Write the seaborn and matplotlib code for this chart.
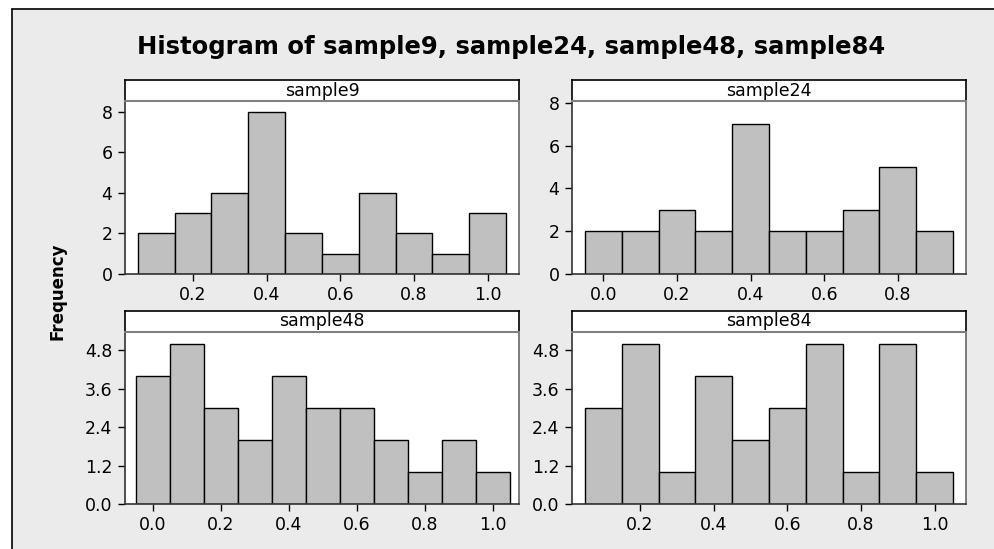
import numpy as np
import pandas as pd
import matplotlib
matplotlib.use("Agg")
import matplotlib.pyplot as plt
import seaborn as sns
from matplotlib.lines import Line2D

sns.set_style("white")
plt.rcParams['font.family'] = ['DejaVu Sans']
plt.rcParams['text.color'] = 'black'
plt.rcParams['xtick.color'] = 'black'
plt.rcParams['ytick.color'] = 'black'
plt.rcParams['axes.labelcolor'] = 'black'

# ---- data (bin centers and counts) ----
titles = ["sample9", "sample24", "sample48", "sample84"]
centers9 = [0.1, 0.2, 0.3, 0.4, 0.5, 0.6, 0.7, 0.8, 0.9, 1.0]
counts9 = [2, 3, 4, 8, 2, 1, 4, 2, 1, 3]
centers24 = [0.0, 0.1, 0.2, 0.3, 0.4, 0.5, 0.6, 0.7, 0.8, 0.9]
counts24 = [2, 2, 3, 2, 7, 2, 2, 3, 5, 2]
centers48 = [0.0, 0.1, 0.2, 0.3, 0.4, 0.5, 0.6, 0.7, 0.8, 0.9, 1.0]
counts48 = [4, 5, 3, 2, 4, 3, 3, 2, 1, 2, 1]
centers84 = [0.1, 0.2, 0.3, 0.4, 0.5, 0.6, 0.7, 0.8, 0.9, 1.0]
counts84 = [3, 5, 1, 4, 2, 3, 5, 1, 5, 1]

xticks9 = [0.2, 0.4, 0.6, 0.8, 1.0]
xticks24 = [0.0, 0.2, 0.4, 0.6, 0.8]
xticks48 = [0.0, 0.2, 0.4, 0.6, 0.8, 1.0]
xticks84 = [0.2, 0.4, 0.6, 0.8, 1.0]
yticks_top = [0, 2, 4, 6, 8]
yticks_bottom = [0.0, 1.2, 2.4, 3.6, 4.8]

W, H = 995, 549
fig = plt.figure(figsize=(W / 100, H / 100), dpi=100)
fig.patch.set_facecolor("#ebebeb")

FS = 12.5

def px_axes(left, top, right, bottom):
    return fig.add_axes([left / W, 1 - bottom / H, (right - left) / W, (bottom - top) / H])

panels = [
    (titles[0], centers9, counts9, xticks9, yticks_top, "{:.0f}", (125, 101, 519, 274), (0.0155, 1.085), 8.54),
    (titles[1], centers24, counts24, xticks24, yticks_top, "{:.0f}", (572, 101, 966, 274), (-0.085, 0.985), 8.09),
    (titles[2], centers48, counts48, xticks48, yticks_bottom, "{:.1f}", (125, 332, 519, 504), (-0.082, 1.077), 5.375),
    (titles[3], centers84, counts84, xticks84, yticks_bottom, "{:.1f}", (572, 332, 966, 504), (0.015, 1.085), 5.375),
]

for name, cen, cnt, xt, yt, fmt, (l, t, r, b), xlim, ymax in panels:
    ax = px_axes(l, t, r, b)
    df = pd.DataFrame({"value": np.asarray(cen, dtype=float), "count": np.asarray(cnt, dtype=float)})
    sns.histplot(data=df, x="value", weights="count", bins=len(cen),
                 binrange=(cen[0] - 0.05, cen[-1] + 0.05), ax=ax, color="#c0c0c0",
                 edgecolor="black", linewidth=1.0, alpha=1.0)
    ax.set_facecolor("white")
    ax.set_xlim(*xlim)
    ax.set_ylim(0, ymax)
    ax.set_xticks(xt)
    ax.set_xticklabels([f"{v:.1f}" for v in xt], fontsize=FS, color="black")
    ax.set_yticks(yt)
    ax.set_yticklabels([fmt.format(v) for v in yt], fontsize=FS, color="black")
    ax.set_xlabel("")
    ax.set_ylabel("")
    ax.tick_params(axis="both", which="both", direction="out", length=5, width=1,
                   color="black", pad=4, bottom=True, left=True)
    for s in ["left", "bottom"]:
        ax.spines[s].set_color("#333333")
        ax.spines[s].set_linewidth(1.2)
    for s in ["right", "top"]:
        ax.spines[s].set_color("#666666")
        ax.spines[s].set_linewidth(1.2)
    # strip
    sax = px_axes(l, t - 21, r, t)
    sax.set_facecolor("white")
    sax.set_xticks([])
    sax.set_yticks([])
    for s in ["left", "top", "right"]:
        sax.spines[s].set_color("black")
        sax.spines[s].set_linewidth(1.2)
    sax.spines["bottom"].set_color("#808080")
    sax.spines["bottom"].set_linewidth(1.5)
    sax.text(0.5, 0.5, name, ha="center", va="center", fontsize=FS, color="black",
             transform=sax.transAxes)

fig.text(511 / W, 1 - 47 / H, "Histogram of sample9, sample24, sample48, sample84",
         ha="center", va="center", fontsize=17.5, fontweight="bold", color="black")
fig.text(58 / W, 1 - 291 / H, "Frequency", ha="center", va="center", rotation=90,
         fontsize=12, fontweight="bold", color="black")

# outer frame lines (top and left) with white margin outside
fig.add_artist(plt.Rectangle((0, 1 - 9 / H), 1, 9 / H, transform=fig.transFigure,
                             facecolor="white", edgecolor="none"))
fig.add_artist(plt.Rectangle((0, 0), 12 / W, 1, transform=fig.transFigure,
                             facecolor="white", edgecolor="none"))
fig.add_artist(Line2D([12 / W, 1.0], [1 - 9 / H, 1 - 9 / H], transform=fig.transFigure,
                      color="black", linewidth=1.2))
fig.add_artist(Line2D([12 / W, 12 / W], [0, 1 - 9 / H], transform=fig.transFigure,
                      color="black", linewidth=1.2))

fig.savefig("out.png", dpi=100, facecolor=fig.get_facecolor())
